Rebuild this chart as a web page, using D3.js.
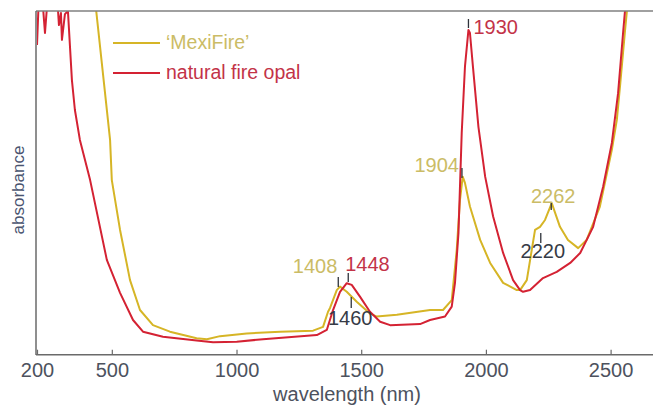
<!DOCTYPE html>
<html>
<head>
<meta charset="utf-8">
<script src="https://cdnjs.cloudflare.com/ajax/libs/d3/7.8.5/d3.min.js"></script>
<style>
    body { margin: 0; background: #fff; }
    svg { font-family: "Liberation Sans", Arial, sans-serif; }
    .line { fill: none; stroke-width: 2; stroke-linejoin: round; }
</style>
</head>
<body>
<div id="chart"></div>
<script>
// natural fire opal (red)
var redWl = [200, 208, 220, 232, 244, 280, 288, 296, 300, 312, 324, 340, 352, 372, 413, 480, 533, 585, 625, 705, 840, 906, 1001, 1106, 1322, 1362, 1387, 1415, 1442, 1462, 1495, 1535, 1576, 1616, 1736, 1776, 1836, 1863, 1876, 1890, 1903, 1916, 1930, 1936, 1948, 1970, 1997, 2029, 2069, 2109, 2137, 2149, 2177, 2229, 2284, 2338, 2378, 2430, 2470, 2505, 2530, 2550, 2560];
var redAbs = [90.1, 105, 105, 93.6, 105, 105, 95.9, 99.4, 91.6, 99.1, 100, 79.9, 71.2, 62.5, 50.8, 27.6, 18.0, 10.1, 6.7, 5.2, 4.1, 3.6, 3.8, 4.5, 5.7, 7.2, 13.0, 18.3, 20.8, 20.3, 16.9, 12.5, 9.6, 8.6, 8.9, 10.1, 11.1, 14.0, 20.9, 35.4, 64.5, 83.8, 94.5, 93.6, 83.8, 66.3, 51.8, 40.2, 29.6, 21.7, 18.8, 18.3, 18.8, 22.3, 24.1, 26.7, 29.6, 37.2, 48.9, 61.6, 76.1, 93.6, 102];

// 'MexiFire' (yellow)
var mexiWl = [436, 493, 500, 533, 573, 613, 665, 733, 840, 881, 934, 1041, 1175, 1307, 1347, 1367, 1375, 1402, 1415, 1442, 1482, 1535, 1562, 1643, 1776, 1828, 1863, 1883, 1896, 1907, 1916, 1936, 1977, 2017, 2069, 2124, 2137, 2164, 2197, 2217, 2237, 2264, 2297, 2329, 2370, 2404, 2457, 2505, 2525, 2539, 2557, 2568];
var mexiAbs = [101, 62.5, 50.8, 36.3, 21.7, 13.0, 8.6, 6.7, 4.8, 4.5, 5.4, 6.2, 6.7, 7.0, 8.1, 12.5, 13.6, 18.8, 19.8, 18.3, 15.4, 12.0, 11.1, 11.6, 13.0, 13.0, 15.9, 30.5, 45.0, 51.8, 50.0, 43.1, 33.4, 26.7, 20.9, 18.8, 18.8, 21.7, 36.3, 37.2, 39.2, 44.1, 37.2, 33.4, 31.0, 33.4, 43.1, 59.6, 68.3, 79.1, 93.6, 102];

var xTicks = [200, 500, 1000, 1500, 2000, 2500];
var seriesNames = ["\u2018MexiFire\u2019", "natural fire opal"];
var peakWl = [1408, 1448, 1460, 1904, 1930, 2220, 2262];
var peakOwner = ["mexi", "red", "both", "mexi", "red", "both", "mexi"];

var W = 653, H = 407;
var yellow = "#d6b526", red = "#d42233";
var textColor = { mexi: "#cbbc66", red: "#c33348", both: "#363b46" };

var x = d3.scaleLinear().domain([200, 2670]).range([37, 653]);
var y = d3.scaleLinear().domain([0, 100]).range([354.7, 11]);

var svg = d3.select("#chart").append("svg").attr("width", W).attr("height", H);

svg.append("defs").append("clipPath")
    .attr("id", "clip")
    .append("rect")
    .attr("x", 37).attr("y", 11)
    .attr("width", W - 37).attr("height", 354.7 - 11);

var line = d3.line()
    .x(function(d) { return x(d[0]); })
    .y(function(d) { return y(d[1]); });

var mexiData = mexiWl.map(function(w, i) { return [w, mexiAbs[i]]; });
var redData = redWl.map(function(w, i) { return [w, redAbs[i]]; });

var plot = svg.append("g").attr("clip-path", "url(#clip)");
plot.append("path").attr("class", "line").attr("d", line(mexiData)).style("stroke", yellow);
plot.append("path").attr("class", "line").attr("d", line(redData)).style("stroke", red);

// frame: top border + left axis
svg.append("line").attr("x1", 36).attr("x2", W).attr("y1", 11).attr("y2", 11)
    .style("stroke", "#808080").style("stroke-width", 1.5);
svg.append("line").attr("x1", 36).attr("x2", 36).attr("y1", 11).attr("y2", 355)
    .style("stroke", "#6a6a6a").style("stroke-width", 1.5);

// x axis, ticks pointing inward
var xAxis = d3.axisBottom(x).tickValues(xTicks).tickSize(-5).tickSizeOuter(0).tickPadding(7)
    .tickFormat(d3.format("d"));
var gx = svg.append("g").attr("transform", "translate(0,354.7)").call(xAxis);
gx.select(".domain").attr("d", "M36,0H" + W).style("stroke", "#6a6a6a").style("stroke-width", 1.5);
gx.selectAll(".tick line").style("stroke", "#6a6a6a").style("stroke-width", 1.2);
gx.selectAll(".tick text")
    .style("font-size", "20px")
    .style("fill", "#4d525e")
    .attr("y", 22)
    .attr("dy", 0);

svg.append("text")
    .attr("x", 347).attr("y", 401)
    .attr("text-anchor", "middle")
    .style("font-size", "20px")
    .style("fill", "#4d525e")
    .text("wavelength (nm)");

svg.append("text")
    .attr("transform", "translate(24,190) rotate(-90)")
    .attr("text-anchor", "middle")
    .style("font-size", "17px")
    .style("fill", "#4a5470")
    .text("absorbance");

// legend
var legend = svg.append("g");
[yellow, red].forEach(function(c, i) {
    var ly = 43 + i * 30;
    legend.append("line").attr("x1", 113).attr("x2", 160).attr("y1", ly).attr("y2", ly)
        .style("stroke", c).style("stroke-width", 2.2);
    legend.append("text").attr("x", 166).attr("y", ly + 6)
        .style("font-size", "19.5px")
        .style("fill", i === 0 ? textColor.mexi : textColor.red)
        .text(seriesNames[i]);
});

// peak annotations: tick top/bottom (px), text offset and anchor
var peakLayout = {
    1408: { t1: 277, t2: 287, dx: -1, ty: 273, anchor: "end" },
    1448: { t1: 273, t2: 282, dx: -3, ty: 271, anchor: "start" },
    1460: { t1: 297, t2: 308, dx: -1, ty: 325, anchor: "middle" },
    1904: { t1: 168, t2: 178, dx: -3, ty: 172, anchor: "end" },
    1930: { t1: 19, t2: 28, dx: 5, ty: 34, anchor: "start" },
    2220: { t1: 233, t2: 243, dx: 2, ty: 258, anchor: "middle" },
    2262: { t1: 203, t2: 210, dx: 2, ty: 203, anchor: "middle" }
};

var ann = svg.append("g");
peakWl.forEach(function(w, i) {
    var p = peakLayout[w];
    var px = x(w);
    ann.append("line").attr("x1", px).attr("x2", px).attr("y1", p.t1).attr("y2", p.t2)
        .style("stroke", "#2e323a").style("stroke-width", 1.3);
    ann.append("text")
        .attr("x", px + p.dx).attr("y", p.ty)
        .attr("text-anchor", p.anchor)
        .style("font-size", "20px")
        .style("fill", textColor[peakOwner[i]])
        .text(w);
});
</script>
</body>
</html>
